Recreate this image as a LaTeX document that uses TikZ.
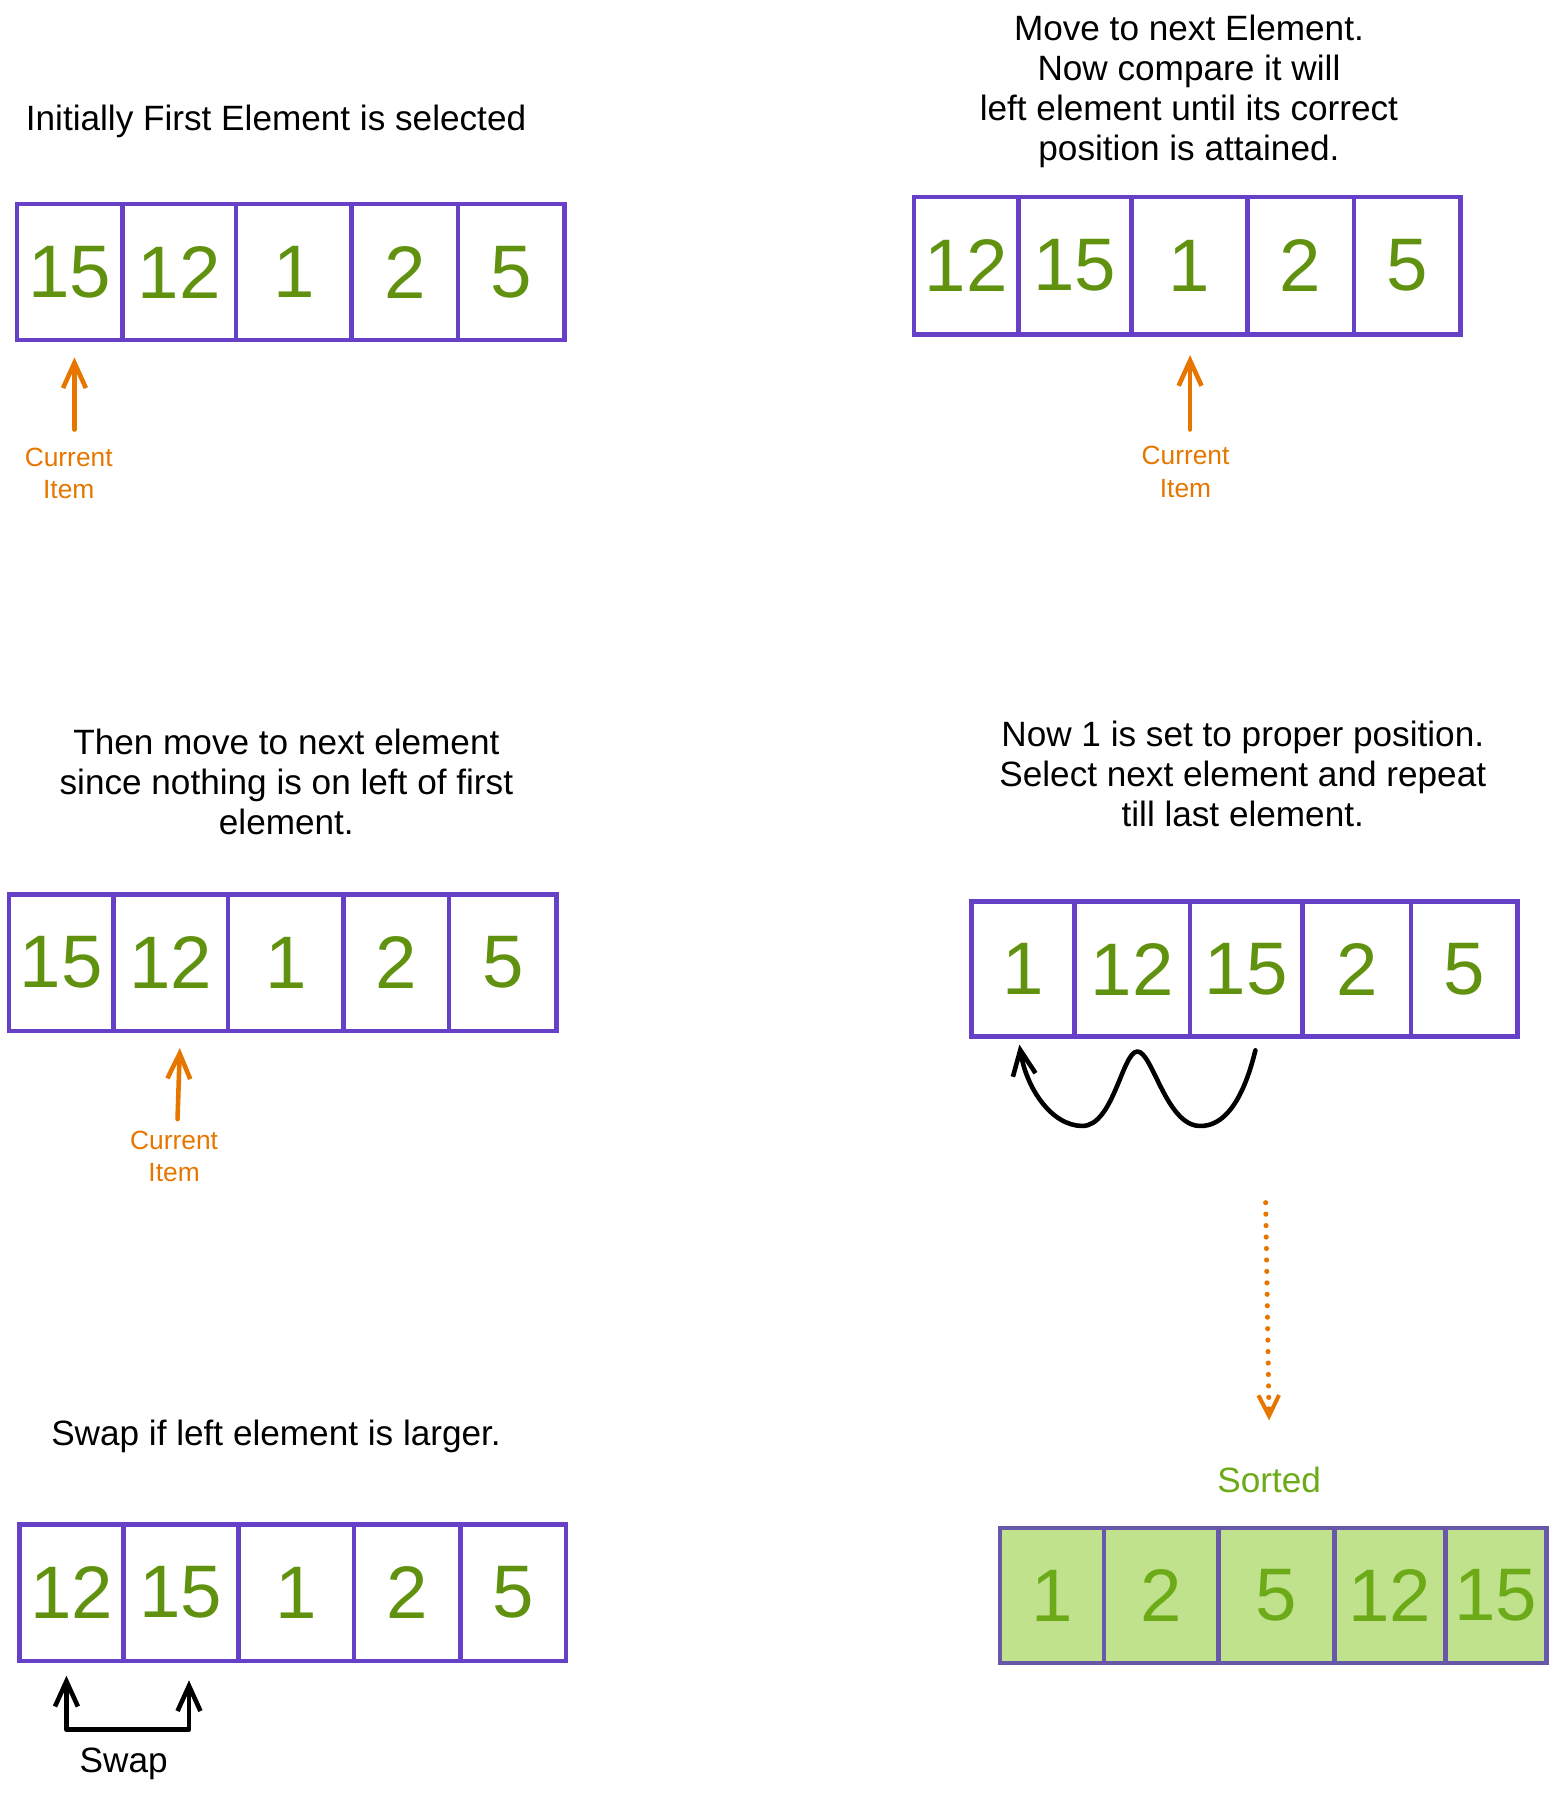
\documentclass[tikz,border=0pt]{standalone}
\usepackage{fontspec}
\setmainfont{Liberation Sans}
\usetikzlibrary{arrows.meta}
\definecolor{purp}{RGB}{102,64,198}
\definecolor{dgreen}{RGB}{96,146,16}
\definecolor{sgreen}{RGB}{108,170,24}
\definecolor{sfill}{RGB}{192,226,140}
\definecolor{sborder}{RGB}{104,88,170}
\definecolor{orng}{RGB}{230,118,0}
\begin{document}
\begin{tikzpicture}[x=1pt,y=-1pt,
 cell/.style={draw=purp, line width=4pt, minimum height=119pt, inner sep=0pt, text=dgreen, font=\fontsize{65}{78}\selectfont},
 scell/.style={cell, fill=sfill, text=sgreen, draw=sborder},
 title/.style={align=center, font=\fontsize{30.7}{35}\selectfont, inner sep=0pt},
 curlbl/.style={align=center, text=orng, font=\fontsize{23}{28}\selectfont, inner sep=0pt},
 curarrow/.style={draw=orng, line width=4pt, line cap=round, -{Straight Barb[length=22pt,width=20pt,line width=4pt]}},
 blackarrow/.style={draw=black, line width=4pt, line cap=round, line join=round},
 dotarrow/.style={draw=orng, line width=4.5pt, line cap=round, dash pattern=on 0pt off 10pt, -{Straight Barb[length=18pt,width=18pt,line width=3.5pt]}}
]
\useasboundingbox (0,0) rectangle (1358,1568);

% ---- Array 1 (top left)
\node[title] (t1) at (241,106) {Initially First Element is selected};
\node[cell, minimum width=92pt]  (a1) at (61,237.5)   {15};
\node[cell, minimum width=99pt]  (a2) at (156.5,237.5) {12};
\node[cell, minimum width=101pt] (a3) at (256.5,237.5) {1};
\node[cell, minimum width=93pt]  (a4) at (353.5,237.5) {2};
\node[cell, minimum width=93pt]  (a5) at (446.5,237.5) {5};
\node[curlbl] (c1) at (60,413) {Current\\Item};
\coordinate (c1s) at (65,375);
\coordinate (c1e) at (65,312);
\draw[curarrow] (c1s) -- (c1e);

% ---- Array 2 (top right)
\node[title] (t2) at (1038,80) {Move to next Element.\\Now compare it will\\left element until its correct\\position is attained.};
\node[cell, minimum width=91pt, minimum height=120pt]  (b1) at (843.5,232) {12};
\node[cell, minimum width=99pt, minimum height=120pt]  (b2) at (938.5,232) {15};
\node[cell, minimum width=101pt, minimum height=120pt] (b3) at (1038.5,232) {1};
\node[cell, minimum width=93pt, minimum height=120pt]  (b4) at (1135.5,232) {2};
\node[cell, minimum width=93pt, minimum height=120pt]  (b5) at (1228.5,232) {5};
\node[curlbl] (c2) at (1035,412) {Current\\Item};
\coordinate (c2s) at (1039,375);
\coordinate (c2e) at (1039,310);
\draw[curarrow] (c2s) -- (c2e);

% ---- Array 3 (middle left)
\node[title] (t3) at (250,683) {Then move to next element\\since nothing is on left of first\\element.};
\node[cell, minimum width=91pt]  (d1) at (53.5,840.5) {15};
\node[cell, minimum width=100pt] (d2) at (149,840.5)  {12};
\node[cell, minimum width=101pt] (d3) at (249.5,840.5) {1};
\node[cell, minimum width=92pt]  (d4) at (346,840.5)  {2};
\node[cell, minimum width=94pt]  (d5) at (439,840.5)  {5};
\node[curlbl] (c3) at (152,1010) {Current\\Item};
\coordinate (c3s) at (155,977);
\coordinate (c3e) at (157,915);
\draw[curarrow] (c3s) -- (c3e);

% ---- Array 4 (middle right)
\node[title] (t4) at (1085,676) {Now 1 is set to proper position.\\Select next element and repeat\\till last element.};
\node[cell, minimum width=90pt, minimum height=118pt]  (e1) at (893,846)    {1};
\node[cell, minimum width=101pt, minimum height=118pt] (e2) at (988.5,846)  {12};
\node[cell, minimum width=98pt, minimum height=118pt]  (e3) at (1088,846)   {15};
\node[cell, minimum width=95pt, minimum height=118pt]  (e4) at (1184.5,846) {2};
\node[cell, minimum width=93pt, minimum height=118pt]  (e5) at (1278.5,846) {5};
\coordinate (w0) at (1096,917);
\coordinate (w1) at (890,912);
\draw[blackarrow, -{Straight Barb[length=22pt,width=20pt,line width=4pt]}]
  (w0) .. controls (1086,958) and (1070,984) .. (1047,983)
       .. controls (1018,982) and (1006,918) .. (993,918)
       .. controls (980,918) and (972,983) .. (945,983)
       .. controls (918,983) and (896,950) .. (w1);

% ---- Dotted arrow and sorted array (bottom right)
\coordinate (ds) at (1105,1050);
\coordinate (de) at (1108,1240);
\draw[dotarrow] (ds) -- (de);
\node[text=sgreen, font=\fontsize{30.7}{35}\selectfont, inner sep=0pt] (sorted) at (1108,1292) {Sorted};
\node[scell, minimum width=91pt, minimum height=118pt]  (f1) at (918.5,1393)  {1};
\node[scell, minimum width=100pt, minimum height=118pt] (f2) at (1014,1393)   {2};
\node[scell, minimum width=101pt, minimum height=118pt] (f3) at (1114.5,1393) {5};
\node[scell, minimum width=97pt, minimum height=118pt]  (f4) at (1213.5,1393) {12};
\node[scell, minimum width=88pt, minimum height=118pt]  (f5) at (1306,1393)   {15};

% ---- Array 6 (bottom left)
\node[title] (t6) at (241,1254) {Swap if left element is larger.};
\node[cell, minimum width=91pt]  (g1) at (62.5,1390.5)  {12};
\node[cell, minimum width=100pt] (g2) at (158,1390.5)   {15};
\node[cell, minimum width=101pt] (g3) at (258.5,1390.5) {1};
\node[cell, minimum width=93pt]  (g4) at (355.5,1390.5) {2};
\node[cell, minimum width=92pt]  (g5) at (448,1390.5)   {5};
\coordinate (s1) at (58,1463);
\coordinate (s2) at (165,1467);
\draw[blackarrow, {Straight Barb[length=22pt,width=20pt,line width=4pt]}-{Straight Barb[length=22pt,width=20pt,line width=4pt]}]
  (s1) -- (58,1510) -- (165,1510) -- (s2);
\node[font=\fontsize{30.7}{35}\selectfont, inner sep=0pt] (swap) at (108,1540) {Swap};
\end{tikzpicture}
\end{document}
